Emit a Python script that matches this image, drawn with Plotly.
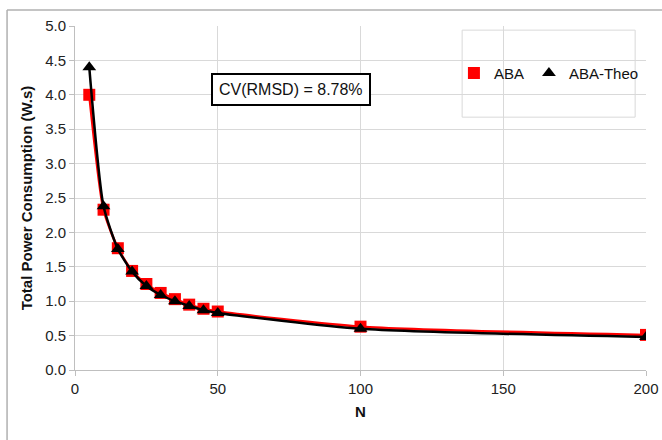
import plotly.graph_objects as go

N = [5, 10, 15, 20, 25, 30, 35, 40, 45, 50, 100, 200]
aba = [4.00, 2.33, 1.77, 1.44, 1.25, 1.12, 1.03, 0.95, 0.89, 0.85, 0.63, 0.51]
aba_theo = [4.40, 2.38, 1.76, 1.43, 1.22, 1.09, 1.00, 0.93, 0.87, 0.83, 0.60, 0.48]
x_ticks = [0, 50, 100, 150, 200]
y_ticks = [0.0, 0.5, 1.0, 1.5, 2.0, 2.5, 3.0, 3.5, 4.0, 4.5, 5.0]
cv_text = "CV(RMSD) = 8.78%"

series = [
    ("ABA", aba, "#ff0000", "square"),
    ("ABA-Theo", aba_theo, "#000000", "triangle-up"),
]

fig = go.Figure()
for name, vals, color, sym in series:
    fig.add_trace(go.Scatter(
        x=N, y=vals, name=name, mode="lines", showlegend=False,
        line=dict(color=color, width=2.5, shape="spline", smoothing=0.6),
        hoverinfo="skip",
    ))
    fig.add_trace(go.Scatter(
        x=N, y=vals, name=name, mode="markers", showlegend=True,
        marker=dict(symbol=sym, size=12, color=color),
    ))

fig.update_layout(
    width=662, height=440,
    margin=dict(l=75, r=16, t=26, b=70, autoexpand=False),
    paper_bgcolor="white", plot_bgcolor="white",
    font=dict(family="Liberation Sans, Arial, sans-serif", size=15, color="#222222"),
    showlegend=True,
    legend=dict(
        orientation="h", x=0.83, y=0.863, xanchor="center", yanchor="middle",
        bgcolor="rgba(0,0,0,0)", borderwidth=0,
        font=dict(size=15, color="#111111"), itemwidth=30,
    ),
    xaxis=dict(
        range=[0, 200], tickvals=x_ticks, ticktext=[str(v) for v in x_ticks],
        automargin=False,
        showgrid=True, gridcolor="#d9d9d9", gridwidth=1,
        showline=True, linecolor="#bfbfbf", linewidth=1,
        ticks="outside", ticklen=5, tickcolor="#bfbfbf",
        zeroline=False, tickfont=dict(size=15, color="#222222"),
        title=dict(text="<b>N</b>", font=dict(size=15, color="#111111"), standoff=10),
    ),
    yaxis=dict(
        range=[0, 5.0], tickvals=y_ticks, ticktext=[f"{v:.1f}" for v in y_ticks],
        automargin=False,
        showgrid=True, gridcolor="#d9d9d9", gridwidth=1,
        showline=True, linecolor="#bfbfbf", linewidth=1,
        ticks="outside", ticklen=5, tickcolor="#bfbfbf",
        zeroline=False, tickfont=dict(size=15, color="#222222"),
        title=dict(text="<b>Total Power Consumption (W.s)</b>", font=dict(size=15, color="#111111"), standoff=8),
    ),
    shapes=[
        dict(type="line", xref="paper", yref="paper", x0=-0.119, x1=1.05, y0=1.0465, y1=1.0465,
             line=dict(color="#b0b0b0", width=1.5), layer="below"),
        dict(type="line", xref="paper", yref="paper", x0=-0.119, x1=-0.119, y0=-0.22, y1=1.0465,
             line=dict(color="#b0b0b0", width=1.5), layer="below"),
        dict(type="rect", xref="paper", yref="paper", x0=0.678, x1=0.981, y0=0.735, y1=0.988,
             line=dict(color="#d9d9d9", width=1), fillcolor="white", layer="below"),
    ],
    annotations=[
        dict(x=75.6, y=4.07, xref="x", yref="y", text=cv_text, showarrow=False,
             font=dict(size=16, color="#111111"), bgcolor="white",
             bordercolor="#000000", borderwidth=2, borderpad=6),
    ],
)

fig.write_html(
    "out.html",
    config={"displayModeBar": False},
    post_script="document.body.style.margin='0';document.body.style.overflow='hidden';",
)
